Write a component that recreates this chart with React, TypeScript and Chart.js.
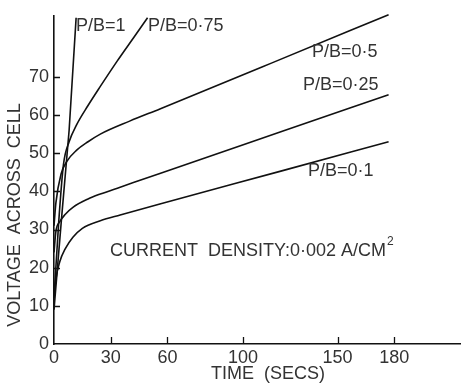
import React, { useEffect, useRef } from "react";
import { Chart, registerables } from "chart.js";

Chart.register(...registerables);

const seriesNames = ["P/B=1", "P/B=0·75", "P/B=0·5", "P/B=0·25", "P/B=0·1"];

const timePB1 = [0, 4, 8, 11.7];
const voltPB1 = [9, 33, 56, 85.5];

const timePB075 = [0, 2.5, 5, 8, 12, 18, 24.5, 33.5, 42, 49.5];
const voltPB075 = [12, 32, 47, 53, 57.5, 62.5, 67.5, 74.2, 80.2, 85.5];

const timePB05 = [0, 1, 3.7, 7, 12, 18, 24.5, 40, 56, 115, 177];
const voltPB05 = [31, 37, 44.5, 48, 50.8, 53, 55, 58.4, 61.6, 73.6, 86.3];

const timePB025 = [0, 1, 3, 6, 10, 18, 24.5, 35, 56, 120, 177];
const voltPB025 = [24, 29.5, 32, 34, 35.8, 38, 39.3, 41.1, 44.7, 55.6, 65.3];

const timePB01 = [0, 1, 3, 6, 10, 15, 19, 24.5, 35, 56, 120, 177];
const voltPB01 = [12, 17, 21.5, 25, 28, 30.3, 31.3, 32.3, 33.8, 36.7, 45.3, 53];

const xTickValues = [0, 30, 60, 100, 150, 180];
const yTickValues = [0, 10, 20, 30, 40, 50, 60, 70];

const xTitle = "TIME  (SECS)";
const yTitle = "VOLTAGE  ACROSS  CELL";
const noteText = "CURRENT  DENSITY:0·002 A/CM";
const noteSup = "2";

// label anchors in data coordinates (left edge, vertical middle)
const labelTexts = ["P/B=1", "P/B=0·75", "P/B=0·5", "P/B=0·25", "P/B=0·1"];
const labelX = [11.6, 49.7, 136.5, 131.7, 134.4];
const labelY = [83.3, 83.3, 76.6, 67.9, 45.3];
const noteX = 29.6;
const noteY = 24.4;

const FONT = "'Liberation Sans', Arial, sans-serif";
const TEXT = "#333";
const INK = "#111";

const seriesTimes = [timePB1, timePB075, timePB05, timePB025, timePB01];
const seriesVolts = [voltPB1, voltPB075, voltPB05, voltPB025, voltPB01];

const decorPlugin = {
  id: "decor",
  afterDraw(chart: any) {
    const { ctx, scales, chartArea } = chart;
    const xs = scales.x;
    const ys = scales.y;
    ctx.save();
    // inner ticks
    ctx.strokeStyle = INK;
    ctx.lineWidth = 1.3;
    ctx.beginPath();
    yTickValues.forEach((v) => {
      if (v === 0) return;
      const py = Math.round(ys.getPixelForValue(v)) + 0.5;
      ctx.moveTo(chartArea.left, py);
      ctx.lineTo(chartArea.left + 6, py);
    });
    xTickValues.forEach((v) => {
      if (v === 0) return;
      const px = Math.round(xs.getPixelForValue(v)) + 0.5;
      ctx.moveTo(px, chartArea.bottom);
      ctx.lineTo(px, chartArea.bottom - 7);
    });
    ctx.stroke();

    ctx.fillStyle = TEXT;
    ctx.font = `18px ${FONT}`;
    ctx.textBaseline = "middle";
    ctx.textAlign = "left";
    labelTexts.forEach((t, i) => {
      ctx.fillText(t, xs.getPixelForValue(labelX[i]), ys.getPixelForValue(labelY[i]));
    });
    const nx = xs.getPixelForValue(noteX);
    const ny = ys.getPixelForValue(noteY);
    ctx.fillText(noteText, nx, ny);
    const w = ctx.measureText(noteText).width;
    ctx.font = `12px ${FONT}`;
    ctx.fillText(noteSup, nx + w + 1, ny - 9);

    // axis titles
    ctx.font = `18px ${FONT}`;
    ctx.textAlign = "center";
    ctx.fillText(xTitle, 268, 374);
    ctx.translate(15, 215);
    ctx.rotate(-Math.PI / 2);
    ctx.fillText(yTitle, 0, 0);
    ctx.restore();
  },
};

export default function App() {
  const ref = useRef<HTMLCanvasElement>(null);
  useEffect(() => {
    if (!ref.current) return;
    const datasets = seriesNames.map((name, i) => ({
      label: name,
      data: seriesTimes[i].map((t, j) => ({ x: t, y: seriesVolts[i][j] })),
      borderColor: INK,
      borderWidth: 1.6,
      pointRadius: 0,
      fill: false,
      clip: false as any,
      cubicInterpolationMode: i === 0 ? ("default" as const) : ("monotone" as const),
      tension: i === 0 ? 0 : 0.4,
    }));
    const chart = new Chart(ref.current, {
      type: "line",
      data: { datasets },
      options: {
        animation: false,
        responsive: false,
        devicePixelRatio: 1,
        layout: { padding: { top: 14.7, right: 0, left: 0, bottom: 0 } },
        plugins: { legend: { display: false }, tooltip: { enabled: false }, title: { display: false } },
        scales: {
          x: {
            type: "linear",
            min: 0,
            max: 215.3,
            afterFit: (s: any) => {
              s.height = 39;
            },
            afterBuildTicks: (s: any) => {
              s.ticks = xTickValues.map((v) => ({ value: v }));
            },
            grid: { display: false, drawTicks: false },
            border: { display: true, color: INK, width: 1.6 },
            ticks: {
              color: TEXT,
              font: { family: FONT, size: 18 },
              padding: 3,
              maxRotation: 0,
              autoSkip: false,
            },
          },
          y: {
            type: "linear",
            min: 0,
            max: 86,
            afterFit: (s: any) => {
              s.width = 54;
            },
            afterBuildTicks: (s: any) => {
              s.ticks = yTickValues.map((v) => ({ value: v }));
            },
            grid: { display: false, drawTicks: false },
            border: { display: true, color: INK, width: 1.6 },
            ticks: {
              color: TEXT,
              font: { family: FONT, size: 18 },
              padding: 5,
              autoSkip: false,
            },
          },
        },
      },
      plugins: [decorPlugin],
    });
    return () => chart.destroy();
  }, []);
  return (
    <div style={{ position: "fixed", left: 0, top: 0, width: 461, height: 383, background: "#fff" }}>
      <canvas ref={ref} width={461} height={383} style={{ display: "block" }} />
    </div>
  );
}
